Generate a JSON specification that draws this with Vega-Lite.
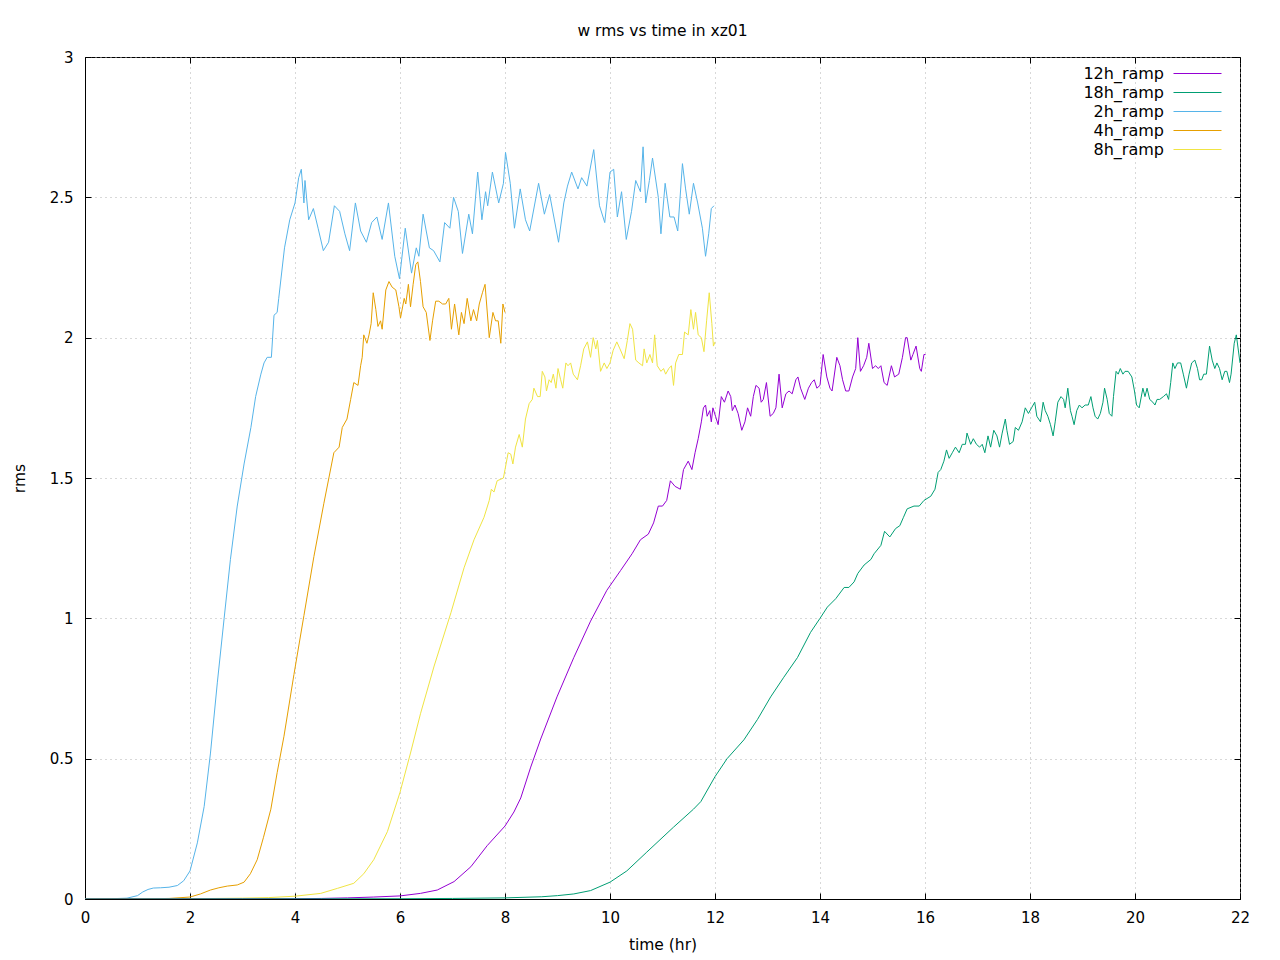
{
  "$schema": "https://vega.github.io/schema/vega-lite/v6.json",
  "width": 1155,
  "height": 842,
  "autosize": {"type": "none"},
  "padding": {"left": 85, "top": 57, "right": 40, "bottom": 61},
  "background": "white",
  "title": {"text": "w rms vs time in xz01", "font": "DejaVu Sans", "fontSize": 15.5, "fontWeight": "normal", "anchor": "middle", "offset": 14, "dy": 3, "color": "black"},
  "config": {
    "view": {"stroke": "black", "strokeWidth": 1},
    "font": "DejaVu Sans",
    "axis": {"labelFont": "DejaVu Sans", "titleFont": "DejaVu Sans", "labelColor": "black", "titleColor": "black", "labelFontSize": 15, "titleFontSize": 15.5, "titleFontWeight": "normal", "domainColor": "black", "tickColor": "black", "tickSize": -6, "gridColor": "#b0b0b0", "gridDash": [1, 4], "gridWidth": 1}
  },
  "datasets": {
    "rms": [
      {"run":"2h_ramp","t":0,"rms":0},{"run":"2h_ramp","t":0.5,"rms":0.001},{"run":"2h_ramp","t":0.8,"rms":0.003},{"run":"2h_ramp","t":1.0,"rms":0.012},{"run":"2h_ramp","t":1.1,"rms":0.025},{"run":"2h_ramp","t":1.2,"rms":0.034},{"run":"2h_ramp","t":1.3,"rms":0.039},{"run":"2h_ramp","t":1.44,"rms":0.04},{"run":"2h_ramp","t":1.6,"rms":0.042},{"run":"2h_ramp","t":1.76,"rms":0.048},{"run":"2h_ramp","t":1.88,"rms":0.065},{"run":"2h_ramp","t":2.0,"rms":0.1},{"run":"2h_ramp","t":2.14,"rms":0.2},{"run":"2h_ramp","t":2.27,"rms":0.33},{"run":"2h_ramp","t":2.39,"rms":0.52},{"run":"2h_ramp","t":2.52,"rms":0.77},{"run":"2h_ramp","t":2.65,"rms":1.0},{"run":"2h_ramp","t":2.77,"rms":1.21},{"run":"2h_ramp","t":2.9,"rms":1.4},{"run":"2h_ramp","t":3.03,"rms":1.55},{"run":"2h_ramp","t":3.16,"rms":1.68},{"run":"2h_ramp","t":3.25,"rms":1.79},{"run":"2h_ramp","t":3.35,"rms":1.87},{"run":"2h_ramp","t":3.41,"rms":1.91},{"run":"2h_ramp","t":3.47,"rms":1.93},{"run":"2h_ramp","t":3.55,"rms":1.93},{"run":"2h_ramp","t":3.6,"rms":2.08},{"run":"2h_ramp","t":3.66,"rms":2.09},{"run":"2h_ramp","t":3.69,"rms":2.14},{"run":"2h_ramp","t":3.8,"rms":2.32},{"run":"2h_ramp","t":3.9,"rms":2.42},{"run":"2h_ramp","t":4.0,"rms":2.48},{"run":"2h_ramp","t":4.07,"rms":2.57},{"run":"2h_ramp","t":4.12,"rms":2.6},{"run":"2h_ramp","t":4.17,"rms":2.48},{"run":"2h_ramp","t":4.19,"rms":2.56},{"run":"2h_ramp","t":4.26,"rms":2.42},{"run":"2h_ramp","t":4.35,"rms":2.46},{"run":"2h_ramp","t":4.44,"rms":2.39},{"run":"2h_ramp","t":4.54,"rms":2.31},{"run":"2h_ramp","t":4.64,"rms":2.34},{"run":"2h_ramp","t":4.75,"rms":2.47},{"run":"2h_ramp","t":4.85,"rms":2.45},{"run":"2h_ramp","t":4.95,"rms":2.37},{"run":"2h_ramp","t":5.04,"rms":2.31},{"run":"2h_ramp","t":5.15,"rms":2.48},{"run":"2h_ramp","t":5.25,"rms":2.38},{"run":"2h_ramp","t":5.36,"rms":2.34},{"run":"2h_ramp","t":5.46,"rms":2.41},{"run":"2h_ramp","t":5.56,"rms":2.43},{"run":"2h_ramp","t":5.66,"rms":2.35},{"run":"2h_ramp","t":5.78,"rms":2.48},{"run":"2h_ramp","t":5.9,"rms":2.29},{"run":"2h_ramp","t":5.99,"rms":2.21},{"run":"2h_ramp","t":6.1,"rms":2.39},{"run":"2h_ramp","t":6.22,"rms":2.23},{"run":"2h_ramp","t":6.31,"rms":2.32},{"run":"2h_ramp","t":6.36,"rms":2.29},{"run":"2h_ramp","t":6.44,"rms":2.44},{"run":"2h_ramp","t":6.56,"rms":2.32},{"run":"2h_ramp","t":6.64,"rms":2.31},{"run":"2h_ramp","t":6.76,"rms":2.27},{"run":"2h_ramp","t":6.85,"rms":2.41},{"run":"2h_ramp","t":6.95,"rms":2.39},{"run":"2h_ramp","t":7.02,"rms":2.5},{"run":"2h_ramp","t":7.11,"rms":2.45},{"run":"2h_ramp","t":7.19,"rms":2.3},{"run":"2h_ramp","t":7.31,"rms":2.44},{"run":"2h_ramp","t":7.38,"rms":2.37},{"run":"2h_ramp","t":7.48,"rms":2.59},{"run":"2h_ramp","t":7.56,"rms":2.42},{"run":"2h_ramp","t":7.63,"rms":2.52},{"run":"2h_ramp","t":7.67,"rms":2.47},{"run":"2h_ramp","t":7.76,"rms":2.59},{"run":"2h_ramp","t":7.88,"rms":2.48},{"run":"2h_ramp","t":7.97,"rms":2.55},{"run":"2h_ramp","t":8.01,"rms":2.66},{"run":"2h_ramp","t":8.1,"rms":2.55},{"run":"2h_ramp","t":8.18,"rms":2.39},{"run":"2h_ramp","t":8.29,"rms":2.53},{"run":"2h_ramp","t":8.39,"rms":2.42},{"run":"2h_ramp","t":8.47,"rms":2.38},{"run":"2h_ramp","t":8.64,"rms":2.55},{"run":"2h_ramp","t":8.75,"rms":2.44},{"run":"2h_ramp","t":8.85,"rms":2.51},{"run":"2h_ramp","t":9.02,"rms":2.34},{"run":"2h_ramp","t":9.12,"rms":2.48},{"run":"2h_ramp","t":9.19,"rms":2.54},{"run":"2h_ramp","t":9.27,"rms":2.59},{"run":"2h_ramp","t":9.39,"rms":2.53},{"run":"2h_ramp","t":9.46,"rms":2.57},{"run":"2h_ramp","t":9.56,"rms":2.54},{"run":"2h_ramp","t":9.69,"rms":2.67},{"run":"2h_ramp","t":9.8,"rms":2.47},{"run":"2h_ramp","t":9.9,"rms":2.41},{"run":"2h_ramp","t":10.0,"rms":2.59},{"run":"2h_ramp","t":10.07,"rms":2.6},{"run":"2h_ramp","t":10.14,"rms":2.43},{"run":"2h_ramp","t":10.22,"rms":2.52},{"run":"2h_ramp","t":10.31,"rms":2.35},{"run":"2h_ramp","t":10.41,"rms":2.45},{"run":"2h_ramp","t":10.49,"rms":2.56},{"run":"2h_ramp","t":10.58,"rms":2.52},{"run":"2h_ramp","t":10.63,"rms":2.68},{"run":"2h_ramp","t":10.68,"rms":2.48},{"run":"2h_ramp","t":10.75,"rms":2.56},{"run":"2h_ramp","t":10.81,"rms":2.64},{"run":"2h_ramp","t":10.92,"rms":2.5},{"run":"2h_ramp","t":10.97,"rms":2.37},{"run":"2h_ramp","t":11.05,"rms":2.55},{"run":"2h_ramp","t":11.14,"rms":2.43},{"run":"2h_ramp","t":11.22,"rms":2.43},{"run":"2h_ramp","t":11.29,"rms":2.38},{"run":"2h_ramp","t":11.38,"rms":2.62},{"run":"2h_ramp","t":11.44,"rms":2.53},{"run":"2h_ramp","t":11.51,"rms":2.44},{"run":"2h_ramp","t":11.59,"rms":2.55},{"run":"2h_ramp","t":11.67,"rms":2.48},{"run":"2h_ramp","t":11.76,"rms":2.39},{"run":"2h_ramp","t":11.82,"rms":2.29},{"run":"2h_ramp","t":11.88,"rms":2.37},{"run":"2h_ramp","t":11.93,"rms":2.46},{"run":"2h_ramp","t":11.98,"rms":2.47},

      {"run":"4h_ramp","t":0,"rms":0},{"run":"4h_ramp","t":1.0,"rms":0.0005},{"run":"4h_ramp","t":1.6,"rms":0.002},{"run":"4h_ramp","t":2.0,"rms":0.007},{"run":"4h_ramp","t":2.2,"rms":0.018},{"run":"4h_ramp","t":2.39,"rms":0.032},{"run":"4h_ramp","t":2.55,"rms":0.04},{"run":"4h_ramp","t":2.71,"rms":0.046},{"run":"4h_ramp","t":2.9,"rms":0.05},{"run":"4h_ramp","t":3.03,"rms":0.06},{"run":"4h_ramp","t":3.15,"rms":0.09},{"run":"4h_ramp","t":3.28,"rms":0.14},{"run":"4h_ramp","t":3.4,"rms":0.22},{"run":"4h_ramp","t":3.54,"rms":0.32},{"run":"4h_ramp","t":3.66,"rms":0.45},{"run":"4h_ramp","t":3.79,"rms":0.58},{"run":"4h_ramp","t":3.98,"rms":0.8},{"run":"4h_ramp","t":4.17,"rms":1.01},{"run":"4h_ramp","t":4.36,"rms":1.22},{"run":"4h_ramp","t":4.55,"rms":1.41},{"run":"4h_ramp","t":4.74,"rms":1.59},{"run":"4h_ramp","t":4.84,"rms":1.61},{"run":"4h_ramp","t":4.9,"rms":1.68},{"run":"4h_ramp","t":4.99,"rms":1.71},{"run":"4h_ramp","t":5.06,"rms":1.78},{"run":"4h_ramp","t":5.12,"rms":1.84},{"run":"4h_ramp","t":5.2,"rms":1.83},{"run":"4h_ramp","t":5.25,"rms":1.9},{"run":"4h_ramp","t":5.28,"rms":1.93},{"run":"4h_ramp","t":5.31,"rms":2.01},{"run":"4h_ramp","t":5.37,"rms":1.98},{"run":"4h_ramp","t":5.41,"rms":2.01},{"run":"4h_ramp","t":5.45,"rms":2.05},{"run":"4h_ramp","t":5.49,"rms":2.16},{"run":"4h_ramp","t":5.54,"rms":2.1},{"run":"4h_ramp","t":5.58,"rms":2.04},{"run":"4h_ramp","t":5.63,"rms":2.06},{"run":"4h_ramp","t":5.66,"rms":2.03},{"run":"4h_ramp","t":5.73,"rms":2.17},{"run":"4h_ramp","t":5.79,"rms":2.2},{"run":"4h_ramp","t":5.85,"rms":2.18},{"run":"4h_ramp","t":5.92,"rms":2.17},{"run":"4h_ramp","t":5.98,"rms":2.11},{"run":"4h_ramp","t":6.01,"rms":2.07},{"run":"4h_ramp","t":6.08,"rms":2.14},{"run":"4h_ramp","t":6.11,"rms":2.12},{"run":"4h_ramp","t":6.16,"rms":2.19},{"run":"4h_ramp","t":6.2,"rms":2.11},{"run":"4h_ramp","t":6.25,"rms":2.19},{"run":"4h_ramp","t":6.3,"rms":2.26},{"run":"4h_ramp","t":6.34,"rms":2.27},{"run":"4h_ramp","t":6.39,"rms":2.2},{"run":"4h_ramp","t":6.44,"rms":2.11},{"run":"4h_ramp","t":6.5,"rms":2.09},{"run":"4h_ramp","t":6.57,"rms":1.99},{"run":"4h_ramp","t":6.62,"rms":2.06},{"run":"4h_ramp","t":6.68,"rms":2.13},{"run":"4h_ramp","t":6.74,"rms":2.13},{"run":"4h_ramp","t":6.81,"rms":2.12},{"run":"4h_ramp","t":6.87,"rms":2.12},{"run":"4h_ramp","t":6.93,"rms":2.14},{"run":"4h_ramp","t":6.98,"rms":2.03},{"run":"4h_ramp","t":7.04,"rms":2.12},{"run":"4h_ramp","t":7.12,"rms":2.01},{"run":"4h_ramp","t":7.17,"rms":2.09},{"run":"4h_ramp","t":7.22,"rms":2.05},{"run":"4h_ramp","t":7.28,"rms":2.14},{"run":"4h_ramp","t":7.35,"rms":2.06},{"run":"4h_ramp","t":7.4,"rms":2.1},{"run":"4h_ramp","t":7.46,"rms":2.06},{"run":"4h_ramp","t":7.51,"rms":2.12},{"run":"4h_ramp","t":7.57,"rms":2.16},{"run":"4h_ramp","t":7.62,"rms":2.19},{"run":"4h_ramp","t":7.7,"rms":2.0},{"run":"4h_ramp","t":7.77,"rms":2.09},{"run":"4h_ramp","t":7.82,"rms":2.06},{"run":"4h_ramp","t":7.87,"rms":2.06},{"run":"4h_ramp","t":7.92,"rms":1.98},{"run":"4h_ramp","t":7.96,"rms":2.12},{"run":"4h_ramp","t":8.0,"rms":2.09},

      {"run":"8h_ramp","t":0,"rms":0},{"run":"8h_ramp","t":2.0,"rms":0.001},{"run":"8h_ramp","t":3.0,"rms":0.003},{"run":"8h_ramp","t":3.5,"rms":0.005},{"run":"8h_ramp","t":4.0,"rms":0.01},{"run":"8h_ramp","t":4.49,"rms":0.02},{"run":"8h_ramp","t":4.81,"rms":0.038},{"run":"8h_ramp","t":5.12,"rms":0.056},{"run":"8h_ramp","t":5.31,"rms":0.09},{"run":"8h_ramp","t":5.5,"rms":0.14},{"run":"8h_ramp","t":5.76,"rms":0.24},{"run":"8h_ramp","t":6.0,"rms":0.38},{"run":"8h_ramp","t":6.2,"rms":0.52},{"run":"8h_ramp","t":6.39,"rms":0.66},{"run":"8h_ramp","t":6.65,"rms":0.83},{"run":"8h_ramp","t":6.97,"rms":1.02},{"run":"8h_ramp","t":7.22,"rms":1.18},{"run":"8h_ramp","t":7.41,"rms":1.28},{"run":"8h_ramp","t":7.6,"rms":1.36},{"run":"8h_ramp","t":7.7,"rms":1.42},{"run":"8h_ramp","t":7.74,"rms":1.46},{"run":"8h_ramp","t":7.79,"rms":1.45},{"run":"8h_ramp","t":7.85,"rms":1.49},{"run":"8h_ramp","t":7.97,"rms":1.5},{"run":"8h_ramp","t":8.0,"rms":1.53},{"run":"8h_ramp","t":8.06,"rms":1.59},{"run":"8h_ramp","t":8.11,"rms":1.585},{"run":"8h_ramp","t":8.15,"rms":1.55},{"run":"8h_ramp","t":8.2,"rms":1.61},{"run":"8h_ramp","t":8.27,"rms":1.655},{"run":"8h_ramp","t":8.33,"rms":1.61},{"run":"8h_ramp","t":8.39,"rms":1.71},{"run":"8h_ramp","t":8.46,"rms":1.765},{"run":"8h_ramp","t":8.52,"rms":1.78},{"run":"8h_ramp","t":8.55,"rms":1.82},{"run":"8h_ramp","t":8.62,"rms":1.79},{"run":"8h_ramp","t":8.67,"rms":1.79},{"run":"8h_ramp","t":8.71,"rms":1.88},{"run":"8h_ramp","t":8.76,"rms":1.86},{"run":"8h_ramp","t":8.79,"rms":1.81},{"run":"8h_ramp","t":8.84,"rms":1.85},{"run":"8h_ramp","t":8.88,"rms":1.84},{"run":"8h_ramp","t":8.92,"rms":1.87},{"run":"8h_ramp","t":8.97,"rms":1.82},{"run":"8h_ramp","t":9.01,"rms":1.89},{"run":"8h_ramp","t":9.06,"rms":1.85},{"run":"8h_ramp","t":9.1,"rms":1.82},{"run":"8h_ramp","t":9.16,"rms":1.91},{"run":"8h_ramp","t":9.2,"rms":1.9},{"run":"8h_ramp","t":9.25,"rms":1.91},{"run":"8h_ramp","t":9.3,"rms":1.87},{"run":"8h_ramp","t":9.38,"rms":1.85},{"run":"8h_ramp","t":9.44,"rms":1.9},{"run":"8h_ramp","t":9.5,"rms":1.96},{"run":"8h_ramp","t":9.57,"rms":1.985},{"run":"8h_ramp","t":9.63,"rms":1.93},{"run":"8h_ramp","t":9.68,"rms":2.0},{"run":"8h_ramp","t":9.73,"rms":1.96},{"run":"8h_ramp","t":9.76,"rms":1.99},{"run":"8h_ramp","t":9.82,"rms":1.88},{"run":"8h_ramp","t":9.89,"rms":1.91},{"run":"8h_ramp","t":9.94,"rms":1.89},{"run":"8h_ramp","t":10.0,"rms":1.91},{"run":"8h_ramp","t":10.06,"rms":1.955},{"run":"8h_ramp","t":10.13,"rms":1.985},{"run":"8h_ramp","t":10.19,"rms":1.96},{"run":"8h_ramp","t":10.27,"rms":1.925},{"run":"8h_ramp","t":10.33,"rms":1.99},{"run":"8h_ramp","t":10.38,"rms":2.05},{"run":"8h_ramp","t":10.43,"rms":2.03},{"run":"8h_ramp","t":10.49,"rms":1.92},{"run":"8h_ramp","t":10.55,"rms":1.91},{"run":"8h_ramp","t":10.62,"rms":1.9},{"run":"8h_ramp","t":10.65,"rms":1.96},{"run":"8h_ramp","t":10.7,"rms":1.91},{"run":"8h_ramp","t":10.76,"rms":1.94},{"run":"8h_ramp","t":10.81,"rms":1.91},{"run":"8h_ramp","t":10.85,"rms":2.01},{"run":"8h_ramp","t":10.9,"rms":1.9},{"run":"8h_ramp","t":10.97,"rms":1.88},{"run":"8h_ramp","t":11.02,"rms":1.89},{"run":"8h_ramp","t":11.06,"rms":1.87},{"run":"8h_ramp","t":11.12,"rms":1.89},{"run":"8h_ramp","t":11.17,"rms":1.9},{"run":"8h_ramp","t":11.21,"rms":1.83},{"run":"8h_ramp","t":11.25,"rms":1.91},{"run":"8h_ramp","t":11.31,"rms":1.94},{"run":"8h_ramp","t":11.38,"rms":1.94},{"run":"8h_ramp","t":11.42,"rms":2.02},{"run":"8h_ramp","t":11.49,"rms":2.01},{"run":"8h_ramp","t":11.54,"rms":2.1},{"run":"8h_ramp","t":11.59,"rms":2.03},{"run":"8h_ramp","t":11.63,"rms":2.09},{"run":"8h_ramp","t":11.68,"rms":2.01},{"run":"8h_ramp","t":11.74,"rms":2.0},{"run":"8h_ramp","t":11.79,"rms":1.95},{"run":"8h_ramp","t":11.84,"rms":2.06},{"run":"8h_ramp","t":11.89,"rms":2.16},{"run":"8h_ramp","t":11.94,"rms":2.05},{"run":"8h_ramp","t":11.97,"rms":1.97},{"run":"8h_ramp","t":12.0,"rms":1.985},

      {"run":"12h_ramp","t":0,"rms":0},{"run":"12h_ramp","t":3.0,"rms":0.0005},{"run":"12h_ramp","t":4.0,"rms":0.001},{"run":"12h_ramp","t":4.5,"rms":0.002},{"run":"12h_ramp","t":5.0,"rms":0.004},{"run":"12h_ramp","t":5.5,"rms":0.007},{"run":"12h_ramp","t":6.0,"rms":0.011},{"run":"12h_ramp","t":6.39,"rms":0.02},{"run":"12h_ramp","t":6.71,"rms":0.032},{"run":"12h_ramp","t":7.03,"rms":0.062},{"run":"12h_ramp","t":7.35,"rms":0.115},{"run":"12h_ramp","t":7.66,"rms":0.19},{"run":"12h_ramp","t":8.0,"rms":0.26},{"run":"12h_ramp","t":8.17,"rms":0.31},{"run":"12h_ramp","t":8.3,"rms":0.36},{"run":"12h_ramp","t":8.49,"rms":0.47},{"run":"12h_ramp","t":8.68,"rms":0.57},{"run":"12h_ramp","t":8.99,"rms":0.72},{"run":"12h_ramp","t":9.31,"rms":0.86},{"run":"12h_ramp","t":9.63,"rms":0.99},{"run":"12h_ramp","t":9.94,"rms":1.1},{"run":"12h_ramp","t":10.2,"rms":1.17},{"run":"12h_ramp","t":10.42,"rms":1.23},{"run":"12h_ramp","t":10.58,"rms":1.28},{"run":"12h_ramp","t":10.73,"rms":1.3},{"run":"12h_ramp","t":10.83,"rms":1.34},{"run":"12h_ramp","t":10.92,"rms":1.4},{"run":"12h_ramp","t":11.0,"rms":1.4},{"run":"12h_ramp","t":11.08,"rms":1.42},{"run":"12h_ramp","t":11.15,"rms":1.49},{"run":"12h_ramp","t":11.24,"rms":1.47},{"run":"12h_ramp","t":11.34,"rms":1.46},{"run":"12h_ramp","t":11.4,"rms":1.53},{"run":"12h_ramp","t":11.49,"rms":1.56},{"run":"12h_ramp","t":11.56,"rms":1.53},{"run":"12h_ramp","t":11.62,"rms":1.59},{"run":"12h_ramp","t":11.68,"rms":1.64},{"run":"12h_ramp","t":11.74,"rms":1.7},{"run":"12h_ramp","t":11.78,"rms":1.75},{"run":"12h_ramp","t":11.82,"rms":1.76},{"run":"12h_ramp","t":11.85,"rms":1.72},{"run":"12h_ramp","t":11.9,"rms":1.74},{"run":"12h_ramp","t":11.93,"rms":1.7},{"run":"12h_ramp","t":11.96,"rms":1.75},{"run":"12h_ramp","t":12.01,"rms":1.72},{"run":"12h_ramp","t":12.06,"rms":1.69},{"run":"12h_ramp","t":12.12,"rms":1.79},{"run":"12h_ramp","t":12.18,"rms":1.77},{"run":"12h_ramp","t":12.25,"rms":1.81},{"run":"12h_ramp","t":12.3,"rms":1.79},{"run":"12h_ramp","t":12.33,"rms":1.74},{"run":"12h_ramp","t":12.38,"rms":1.76},{"run":"12h_ramp","t":12.44,"rms":1.73},{"run":"12h_ramp","t":12.51,"rms":1.67},{"run":"12h_ramp","t":12.57,"rms":1.7},{"run":"12h_ramp","t":12.62,"rms":1.75},{"run":"12h_ramp","t":12.68,"rms":1.72},{"run":"12h_ramp","t":12.73,"rms":1.79},{"run":"12h_ramp","t":12.78,"rms":1.83},{"run":"12h_ramp","t":12.84,"rms":1.82},{"run":"12h_ramp","t":12.88,"rms":1.77},{"run":"12h_ramp","t":12.92,"rms":1.78},{"run":"12h_ramp","t":12.98,"rms":1.84},{"run":"12h_ramp","t":13.05,"rms":1.72},{"run":"12h_ramp","t":13.11,"rms":1.73},{"run":"12h_ramp","t":13.16,"rms":1.75},{"run":"12h_ramp","t":13.22,"rms":1.87},{"run":"12h_ramp","t":13.28,"rms":1.75},{"run":"12h_ramp","t":13.35,"rms":1.8},{"run":"12h_ramp","t":13.41,"rms":1.81},{"run":"12h_ramp","t":13.47,"rms":1.8},{"run":"12h_ramp","t":13.54,"rms":1.85},{"run":"12h_ramp","t":13.58,"rms":1.86},{"run":"12h_ramp","t":13.63,"rms":1.82},{"run":"12h_ramp","t":13.71,"rms":1.78},{"run":"12h_ramp","t":13.78,"rms":1.82},{"run":"12h_ramp","t":13.84,"rms":1.84},{"run":"12h_ramp","t":13.89,"rms":1.85},{"run":"12h_ramp","t":13.94,"rms":1.82},{"run":"12h_ramp","t":14.0,"rms":1.83},{"run":"12h_ramp","t":14.06,"rms":1.94},{"run":"12h_ramp","t":14.13,"rms":1.86},{"run":"12h_ramp","t":14.19,"rms":1.82},{"run":"12h_ramp","t":14.23,"rms":1.81},{"run":"12h_ramp","t":14.32,"rms":1.93},{"run":"12h_ramp","t":14.38,"rms":1.9},{"run":"12h_ramp","t":14.43,"rms":1.85},{"run":"12h_ramp","t":14.49,"rms":1.81},{"run":"12h_ramp","t":14.55,"rms":1.81},{"run":"12h_ramp","t":14.62,"rms":1.86},{"run":"12h_ramp","t":14.68,"rms":1.89},{"run":"12h_ramp","t":14.72,"rms":2.0},{"run":"12h_ramp","t":14.77,"rms":1.88},{"run":"12h_ramp","t":14.83,"rms":1.9},{"run":"12h_ramp","t":14.89,"rms":1.93},{"run":"12h_ramp","t":14.93,"rms":1.98},{"run":"12h_ramp","t":15.0,"rms":1.89},{"run":"12h_ramp","t":15.06,"rms":1.9},{"run":"12h_ramp","t":15.11,"rms":1.89},{"run":"12h_ramp","t":15.16,"rms":1.9},{"run":"12h_ramp","t":15.22,"rms":1.84},{"run":"12h_ramp","t":15.28,"rms":1.83},{"run":"12h_ramp","t":15.36,"rms":1.9},{"run":"12h_ramp","t":15.42,"rms":1.86},{"run":"12h_ramp","t":15.5,"rms":1.87},{"run":"12h_ramp","t":15.57,"rms":1.93},{"run":"12h_ramp","t":15.63,"rms":2.0},{"run":"12h_ramp","t":15.66,"rms":2.0},{"run":"12h_ramp","t":15.73,"rms":1.92},{"run":"12h_ramp","t":15.77,"rms":1.94},{"run":"12h_ramp","t":15.83,"rms":1.97},{"run":"12h_ramp","t":15.9,"rms":1.89},{"run":"12h_ramp","t":15.93,"rms":1.88},{"run":"12h_ramp","t":15.98,"rms":1.94},{"run":"12h_ramp","t":16.01,"rms":1.94},

      {"run":"18h_ramp","t":0,"rms":0},{"run":"18h_ramp","t":4.0,"rms":0.0005},{"run":"18h_ramp","t":6.0,"rms":0.001},{"run":"18h_ramp","t":7.0,"rms":0.002},{"run":"18h_ramp","t":8.0,"rms":0.004},{"run":"18h_ramp","t":8.7,"rms":0.008},{"run":"18h_ramp","t":9.0,"rms":0.012},{"run":"18h_ramp","t":9.31,"rms":0.018},{"run":"18h_ramp","t":9.63,"rms":0.03},{"run":"18h_ramp","t":10.0,"rms":0.06},{"run":"18h_ramp","t":10.32,"rms":0.1},{"run":"18h_ramp","t":10.7,"rms":0.167},{"run":"18h_ramp","t":11.21,"rms":0.256},{"run":"18h_ramp","t":11.59,"rms":0.32},{"run":"18h_ramp","t":11.73,"rms":0.347},{"run":"18h_ramp","t":12.0,"rms":0.436},{"run":"18h_ramp","t":12.23,"rms":0.5},{"run":"18h_ramp","t":12.55,"rms":0.567},{"run":"18h_ramp","t":12.81,"rms":0.64},{"run":"18h_ramp","t":13.06,"rms":0.72},{"run":"18h_ramp","t":13.31,"rms":0.79},{"run":"18h_ramp","t":13.57,"rms":0.86},{"run":"18h_ramp","t":13.82,"rms":0.95},{"run":"18h_ramp","t":14.0,"rms":1.0},{"run":"18h_ramp","t":14.14,"rms":1.04},{"run":"18h_ramp","t":14.3,"rms":1.07},{"run":"18h_ramp","t":14.46,"rms":1.11},{"run":"18h_ramp","t":14.55,"rms":1.11},{"run":"18h_ramp","t":14.65,"rms":1.13},{"run":"18h_ramp","t":14.72,"rms":1.16},{"run":"18h_ramp","t":14.84,"rms":1.19},{"run":"18h_ramp","t":14.97,"rms":1.21},{"run":"18h_ramp","t":15.03,"rms":1.23},{"run":"18h_ramp","t":15.16,"rms":1.26},{"run":"18h_ramp","t":15.23,"rms":1.31},{"run":"18h_ramp","t":15.33,"rms":1.29},{"run":"18h_ramp","t":15.44,"rms":1.32},{"run":"18h_ramp","t":15.52,"rms":1.33},{"run":"18h_ramp","t":15.59,"rms":1.36},{"run":"18h_ramp","t":15.66,"rms":1.39},{"run":"18h_ramp","t":15.79,"rms":1.4},{"run":"18h_ramp","t":15.89,"rms":1.4},{"run":"18h_ramp","t":15.98,"rms":1.42},{"run":"18h_ramp","t":16.11,"rms":1.435},{"run":"18h_ramp","t":16.19,"rms":1.46},{"run":"18h_ramp","t":16.25,"rms":1.52},{"run":"18h_ramp","t":16.3,"rms":1.53},{"run":"18h_ramp","t":16.36,"rms":1.56},{"run":"18h_ramp","t":16.41,"rms":1.6},{"run":"18h_ramp","t":16.46,"rms":1.57},{"run":"18h_ramp","t":16.52,"rms":1.59},{"run":"18h_ramp","t":16.58,"rms":1.61},{"run":"18h_ramp","t":16.65,"rms":1.59},{"run":"18h_ramp","t":16.71,"rms":1.62},{"run":"18h_ramp","t":16.77,"rms":1.62},{"run":"18h_ramp","t":16.8,"rms":1.66},{"run":"18h_ramp","t":16.87,"rms":1.62},{"run":"18h_ramp","t":16.92,"rms":1.64},{"run":"18h_ramp","t":16.98,"rms":1.62},{"run":"18h_ramp","t":17.04,"rms":1.61},{"run":"18h_ramp","t":17.09,"rms":1.62},{"run":"18h_ramp","t":17.14,"rms":1.59},{"run":"18h_ramp","t":17.2,"rms":1.65},{"run":"18h_ramp","t":17.25,"rms":1.61},{"run":"18h_ramp","t":17.31,"rms":1.67},{"run":"18h_ramp","t":17.37,"rms":1.65},{"run":"18h_ramp","t":17.42,"rms":1.61},{"run":"18h_ramp","t":17.47,"rms":1.66},{"run":"18h_ramp","t":17.53,"rms":1.71},{"run":"18h_ramp","t":17.56,"rms":1.67},{"run":"18h_ramp","t":17.61,"rms":1.62},{"run":"18h_ramp","t":17.68,"rms":1.63},{"run":"18h_ramp","t":17.72,"rms":1.68},{"run":"18h_ramp","t":17.78,"rms":1.67},{"run":"18h_ramp","t":17.85,"rms":1.7},{"run":"18h_ramp","t":17.91,"rms":1.75},{"run":"18h_ramp","t":17.97,"rms":1.73},{"run":"18h_ramp","t":18.03,"rms":1.75},{"run":"18h_ramp","t":18.09,"rms":1.77},{"run":"18h_ramp","t":18.13,"rms":1.72},{"run":"18h_ramp","t":18.2,"rms":1.7},{"run":"18h_ramp","t":18.25,"rms":1.77},{"run":"18h_ramp","t":18.29,"rms":1.74},{"run":"18h_ramp","t":18.34,"rms":1.72},{"run":"18h_ramp","t":18.39,"rms":1.69},{"run":"18h_ramp","t":18.44,"rms":1.65},{"run":"18h_ramp","t":18.48,"rms":1.7},{"run":"18h_ramp","t":18.53,"rms":1.77},{"run":"18h_ramp","t":18.59,"rms":1.79},{"run":"18h_ramp","t":18.64,"rms":1.78},{"run":"18h_ramp","t":18.67,"rms":1.75},{"run":"18h_ramp","t":18.72,"rms":1.82},{"run":"18h_ramp","t":18.77,"rms":1.74},{"run":"18h_ramp","t":18.8,"rms":1.72},{"run":"18h_ramp","t":18.84,"rms":1.69},{"run":"18h_ramp","t":18.89,"rms":1.74},{"run":"18h_ramp","t":18.94,"rms":1.76},{"run":"18h_ramp","t":18.99,"rms":1.75},{"run":"18h_ramp","t":19.05,"rms":1.76},{"run":"18h_ramp","t":19.11,"rms":1.76},{"run":"18h_ramp","t":19.16,"rms":1.79},{"run":"18h_ramp","t":19.2,"rms":1.75},{"run":"18h_ramp","t":19.24,"rms":1.72},{"run":"18h_ramp","t":19.29,"rms":1.71},{"run":"18h_ramp","t":19.34,"rms":1.73},{"run":"18h_ramp","t":19.39,"rms":1.77},{"run":"18h_ramp","t":19.42,"rms":1.82},{"run":"18h_ramp","t":19.47,"rms":1.78},{"run":"18h_ramp","t":19.51,"rms":1.73},{"run":"18h_ramp","t":19.56,"rms":1.72},{"run":"18h_ramp","t":19.59,"rms":1.79},{"run":"18h_ramp","t":19.64,"rms":1.88},{"run":"18h_ramp","t":19.68,"rms":1.87},{"run":"18h_ramp","t":19.72,"rms":1.89},{"run":"18h_ramp","t":19.77,"rms":1.87},{"run":"18h_ramp","t":19.81,"rms":1.88},{"run":"18h_ramp","t":19.87,"rms":1.88},{"run":"18h_ramp","t":19.94,"rms":1.86},{"run":"18h_ramp","t":19.99,"rms":1.81},{"run":"18h_ramp","t":20.03,"rms":1.76},{"run":"18h_ramp","t":20.08,"rms":1.75},{"run":"18h_ramp","t":20.15,"rms":1.82},{"run":"18h_ramp","t":20.19,"rms":1.79},{"run":"18h_ramp","t":20.23,"rms":1.82},{"run":"18h_ramp","t":20.28,"rms":1.78},{"run":"18h_ramp","t":20.34,"rms":1.77},{"run":"18h_ramp","t":20.38,"rms":1.76},{"run":"18h_ramp","t":20.42,"rms":1.78},{"run":"18h_ramp","t":20.47,"rms":1.78},{"run":"18h_ramp","t":20.54,"rms":1.79},{"run":"18h_ramp","t":20.6,"rms":1.8},{"run":"18h_ramp","t":20.64,"rms":1.78},{"run":"18h_ramp","t":20.68,"rms":1.84},{"run":"18h_ramp","t":20.72,"rms":1.91},{"run":"18h_ramp","t":20.76,"rms":1.89},{"run":"18h_ramp","t":20.81,"rms":1.91},{"run":"18h_ramp","t":20.87,"rms":1.91},{"run":"18h_ramp","t":20.92,"rms":1.87},{"run":"18h_ramp","t":20.98,"rms":1.82},{"run":"18h_ramp","t":21.03,"rms":1.87},{"run":"18h_ramp","t":21.08,"rms":1.91},{"run":"18h_ramp","t":21.14,"rms":1.92},{"run":"18h_ramp","t":21.19,"rms":1.89},{"run":"18h_ramp","t":21.23,"rms":1.85},{"run":"18h_ramp","t":21.27,"rms":1.85},{"run":"18h_ramp","t":21.31,"rms":1.87},{"run":"18h_ramp","t":21.36,"rms":1.87},{"run":"18h_ramp","t":21.42,"rms":1.97},{"run":"18h_ramp","t":21.47,"rms":1.92},{"run":"18h_ramp","t":21.52,"rms":1.89},{"run":"18h_ramp","t":21.56,"rms":1.91},{"run":"18h_ramp","t":21.61,"rms":1.89},{"run":"18h_ramp","t":21.66,"rms":1.85},{"run":"18h_ramp","t":21.71,"rms":1.88},{"run":"18h_ramp","t":21.75,"rms":1.88},{"run":"18h_ramp","t":21.8,"rms":1.84},{"run":"18h_ramp","t":21.83,"rms":1.87},{"run":"18h_ramp","t":21.89,"rms":1.98},{"run":"18h_ramp","t":21.93,"rms":2.01},{"run":"18h_ramp","t":22.0,"rms":1.91}
    ]
  },
  "data": {"name": "rms"},
  "layer": [
    {
      "mark": {"type": "line", "strokeWidth": 1, "clip": true},
      "encoding": {
        "x": {"field": "t", "type": "quantitative", "scale": {"domain": [0, 22], "nice": false, "zero": false},
          "axis": {"title": "time (hr)", "values": [0,2,4,6,8,10,12,14,16,18,20,22], "format": "d", "grid": true, "labelPadding": 17, "titlePadding": 12, "labelFlush": false}},
        "y": {"field": "rms", "type": "quantitative", "scale": {"domain": [0, 3], "nice": false},
          "axis": {"title": "rms", "values": [0,0.5,1,1.5,2,2.5,3], "format": "~g", "grid": true, "labelPadding": 18, "titlePadding": 22, "labelFlush": false}},
        "color": {"field": "run", "type": "nominal",
          "scale": {"domain": ["12h_ramp","18h_ramp","2h_ramp","4h_ramp","8h_ramp"], "range": ["#9400d3","#009e73","#56b4e9","#e69f00","#f0e442"]},
          "legend": {"title": null, "orient": "none", "legendX": 1100, "legendY": 4, "symbolType": "M-3,0H3", "symbolSize": 256, "symbolStrokeWidth": 1, "labelFont": "DejaVu Sans", "labelFontSize": 16, "labelColor": "black", "labelAlign": "right", "labelOffset": -42, "rowPadding": 2, "padding": 4}}
      }
    },
    {
      "mark": {"type": "line", "opacity": 0},
      "encoding": {
        "x": {"field": "t", "type": "quantitative", "axis": {"orient": "top", "values": [0,2,4,6,8,10,12,14,16,18,20,22], "labels": false, "grid": false, "title": null, "domain": false}},
        "y": {"field": "rms", "type": "quantitative", "axis": {"orient": "right", "values": [0,0.5,1,1.5,2,2.5,3], "labels": false, "grid": false, "title": null, "domain": false}},
        "detail": {"field": "run"}
      }
    }
  ],
  "resolve": {"axis": {"x": "independent", "y": "independent"}}
}
